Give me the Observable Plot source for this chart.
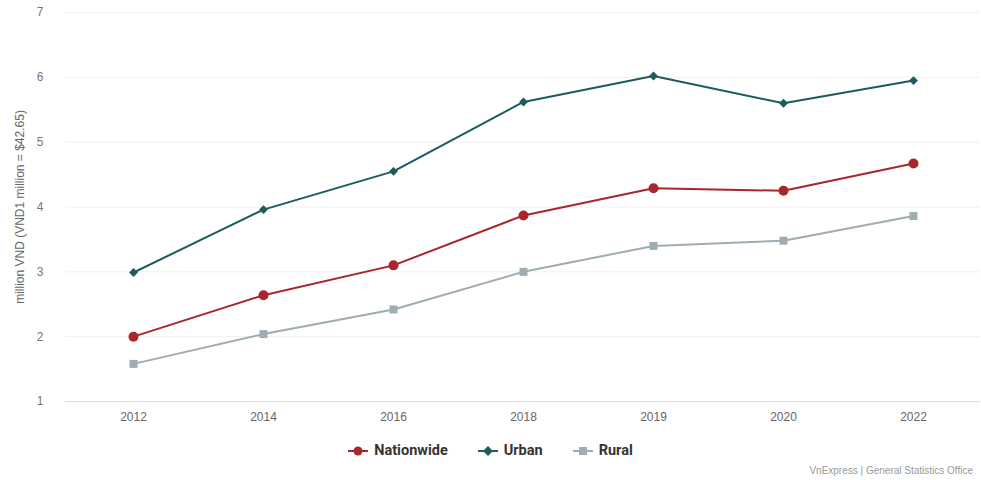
<!DOCTYPE html>
<html>
<head>
<meta charset="utf-8">
<script src="https://cdn.jsdelivr.net/npm/d3@7"></script>
<script src="https://cdn.jsdelivr.net/npm/@observablehq/plot@0.6"></script>
<style>
  html, body { margin: 0; padding: 0; background: #fff; }
  body { width: 981px; height: 480px; overflow: hidden; font-family: "Liberation Sans", Arial, sans-serif; }
  #legend { display: flex; justify-content: center; gap: 30px; margin-top: 12px; padding-left: 0px; font-family: "Roboto", sans-serif; font-weight: bold; font-size: 14.5px; color: #333; }
  .item { display: flex; align-items: center; gap: 6px; }
  #caption { position: absolute; right: 8px; top: 465px; font-size: 10px; color: #999; }
</style>
</head>
<body>
<div id="chart"></div>
<div id="legend"></div>
<div id="caption">VnExpress | General Statistics Office</div>
<script>
const years = ["2012", "2014", "2016", "2018", "2019", "2020", "2022"];
const nationwide = [2.0, 2.64, 3.1, 3.87, 4.29, 4.25, 4.67];
const urban = [2.99, 3.96, 4.55, 5.62, 6.02, 5.6, 5.95];
const rural = [1.58, 2.04, 2.42, 3.0, 3.4, 3.48, 3.86];
const seriesNames = ["Nationwide", "Urban", "Rural"];
const colors = ["#a8262c", "#1d5b5f", "#9eadb2"];
const symbols = ["circle", "diamond2", "square"];
const yTicks = [1, 2, 3, 4, 5, 6, 7];

const seriesValues = [nationwide, urban, rural];
const data = seriesNames.flatMap((name, i) =>
  years.map((year, j) => ({ series: name, year, value: seriesValues[i][j] }))
);

const chart = Plot.plot({
  width: 981,
  height: 430,
  marginLeft: 65,
  marginRight: 1,
  marginTop: 12,
  marginBottom: 29,
  style: { fontFamily: "Liberation Sans, Arial, sans-serif", fontSize: "12px", color: "#666" },
  x: { type: "point", domain: years, padding: 0.5, label: null, tickSize: 0, tickPadding: 10 },
  y: { domain: [1, 7], ticks: yTicks, label: null, tickSize: 0, tickPadding: 22 },
  color: { domain: seriesNames, range: colors },
  symbol: { domain: seriesNames, range: symbols },
  marks: [
    Plot.gridY(yTicks.slice(1), { stroke: "#f0f0f0", strokeOpacity: 1 }),
    Plot.ruleY([1], { stroke: "#dedede" }),
    Plot.axisY({ ticks: yTicks, tickFormat: d3.format("d"), tickSize: 0, tickPadding: 22, label: null, fill: "#777" }),
    Plot.axisX({ tickSize: 0, tickPadding: 11, label: null, fill: "#666" }),
    Plot.text(["million VND (VND1 million = $42.65)"], {
      frameAnchor: "left", dx: -45, rotate: -90, textAnchor: "middle", fill: "#666", fontSize: 12
    }),
    Plot.line(data, { x: "year", y: "value", z: "series", stroke: "series", strokeWidth: 2 }),
    Plot.dot(data.filter(d => d.series === "Nationwide"), { x: "year", y: "value", fill: "series", symbol: "series", r: 5 }),
    Plot.dot(data.filter(d => d.series === "Urban"), { x: "year", y: "value", fill: "series", symbol: "series", r: 4 }),
    Plot.dot(data.filter(d => d.series === "Rural"), { x: "year", y: "value", fill: "series", symbol: "series", r: 4.5 })
  ]
});
document.getElementById("chart").appendChild(chart);

const legend = document.getElementById("legend");
const shapes = {
  circle: '<circle cx="10" cy="6" r="4.5"/>',
  diamond2: '<rect x="6.5" y="2.5" width="7" height="7" transform="rotate(45 10 6)"/>',
  square: '<rect x="6" y="2" width="8" height="8"/>'
};
seriesNames.forEach((name, i) => {
  const div = document.createElement("div");
  div.className = "item";
  div.innerHTML = `<svg width="20" height="12"><line x1="0" x2="20" y1="6" y2="6" stroke="${colors[i]}" stroke-width="2"/><g fill="${colors[i]}">${shapes[symbols[i]]}</g></svg><span>${name}</span>`;
  legend.appendChild(div);
});
</script>
</body>
</html>
